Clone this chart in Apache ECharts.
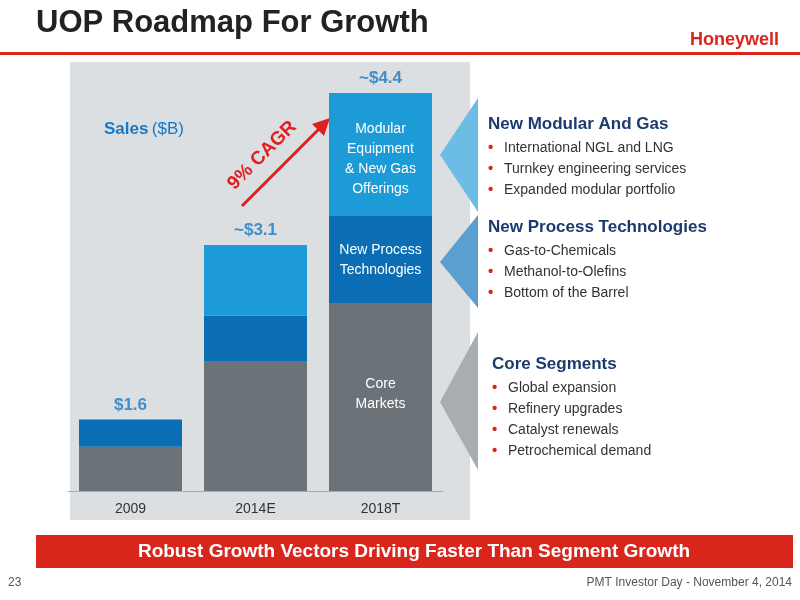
<!DOCTYPE html>
<html><head><meta charset="utf-8">
<script src="https://cdn.jsdelivr.net/npm/echarts@6/dist/echarts.min.js"></script>
<style>body{margin:0}#c{width:800px;height:600px}</style></head>
<body><div id="c"></div>
<script>
const categories = ['2009', '2014E', '2018T'];
const coreMarkets = [0.49, 1.43, 2.07];
const newProcess = [0.30, 0.51, 0.97];
const modularGas = [null, 0.78, 1.36];
const totalLabels = ['$1.6', '~$3.1', '~$4.4'];
const totals = categories.map((c, i) => coreMarkets[i] + newProcess[i] + (modularGas[i] || 0));

const chart = echarts.init(document.getElementById('c'));
const F = 'Liberation Sans, Arial, sans-serif';
const inner = (txt) => ({show: true, position: 'inside', color: '#fff', fontSize: 14, fontFamily: F, lineHeight: 20,
  formatter: (p) => p.dataIndex === 2 ? txt : ''});

function bullets(x, y, head, items) {
  const out = [{type: 'text', left: x, top: y, style: {text: head, fill: '#1b3b6f', font: 'bold 17px ' + F}}];
  items.forEach((t, i) => {
    out.push({type: 'text', left: x, top: y + 24 + i * 21, style: {text: '•', fill: '#d9261c', font: 'bold 15px ' + F}});
    out.push({type: 'text', left: x + 16, top: y + 25 + i * 21, style: {text: t, fill: '#333', font: '14px ' + F}});
  });
  return out;
}

chart.setOption({
  animation: false,
  backgroundColor: '#fff',
  grid: {left: 68, right: 357, top: 93, bottom: 109},
  xAxis: {type: 'category', data: categories, axisTick: {show: false},
    axisLine: {lineStyle: {color: '#aaa'}},
    axisLabel: {color: '#333', fontSize: 14, fontFamily: F, margin: 11}},
  yAxis: {type: 'value', min: 0, max: 4.4, show: false, splitLine: {show: false}},
  graphic: [
    {type: 'rect', z: -10, shape: {x: 70, y: 62, width: 400, height: 458}, style: {fill: '#dcdfe1'}},
    {type: 'text', left: 36, top: 8, style: {text: 'UOP Roadmap For Growth', fill: '#222', font: 'bold 31px ' + F}},
    {type: 'text', left: 690, top: 31, style: {text: 'Honeywell', fill: '#d9261c', font: 'bold 18px ' + F}},
    {type: 'rect', shape: {x: 0, y: 52, width: 800, height: 3}, style: {fill: '#d9261c'}},
    {type: 'text', left: 104, top: 121, style: {rich: {a: {fill: '#1a78c2', font: 'bold 17px ' + F}, b: {fill: '#1a78c2', font: '17px ' + F}}, text: '{a|Sales} {b|($B)}'}},
    {type: 'line', shape: {x1: 242, y1: 206, x2: 326, y2: 122}, style: {stroke: '#e02020', lineWidth: 3}},
    {type: 'polygon', shape: {points: [[330, 118], [312, 124], [324, 136]]}, style: {fill: '#e02020'}},
    {type: 'text', x: 224, y: 180, rotation: Math.PI / 4, style: {text: '9% CAGR', fill: '#e02020', font: 'bold 19px ' + F}},
    {type: 'polygon', shape: {points: [[440, 155], [478, 98], [478, 212]]}, style: {fill: '#6cbde6'}},
    {type: 'polygon', shape: {points: [[440, 262], [478, 215], [478, 308]]}, style: {fill: '#5a9fcf'}},
    {type: 'polygon', shape: {points: [[440, 402], [478, 332], [478, 470]]}, style: {fill: '#a9adb1'}},
    ...bullets(488, 116, 'New Modular And Gas', ['International NGL and LNG', 'Turnkey engineering services', 'Expanded modular portfolio']),
    ...bullets(488, 219, 'New Process Technologies', ['Gas-to-Chemicals', 'Methanol-to-Olefins', 'Bottom of the Barrel']),
    ...bullets(492, 356, 'Core Segments', ['Global expansion', 'Refinery upgrades', 'Catalyst renewals', 'Petrochemical demand']),
    {type: 'rect', shape: {x: 36, y: 535, width: 757, height: 33}, style: {fill: '#d9261c'}},
    {type: 'text', x: 414, y: 552, style: {text: 'Robust Growth Vectors Driving Faster Than Segment Growth', fill: '#fff', font: 'bold 19px ' + F, textAlign: 'center', textVerticalAlign: 'middle'}},
    {type: 'text', left: 8, top: 577, style: {text: '23', fill: '#555', font: '12px ' + F}},
    {type: 'text', right: 8, top: 577, style: {text: 'PMT Investor Day - November 4, 2014', fill: '#555', font: '12px ' + F}}
  ],
  series: [
    {type: 'bar', stack: 's', barWidth: 103, data: coreMarkets, itemStyle: {color: '#6b7378'},
      label: Object.assign(inner('Core\nMarkets'), {position: 'insideTop', distance: 70})},
    {type: 'bar', stack: 's', data: newProcess, itemStyle: {color: '#0b6db3'},
      label: inner('New Process\nTechnologies')},
    {type: 'bar', stack: 's', data: modularGas, itemStyle: {color: '#1d9bd7'},
      label: Object.assign(inner('Modular\nEquipment\n& New Gas\nOfferings'), {position: 'insideTop', distance: 26})},
    {type: 'scatter', data: totals, symbolSize: 0, silent: true,
      label: {show: true, position: 'top', distance: 6, color: '#1a78c2', fontSize: 17, fontWeight: 'bold', fontFamily: F,
        formatter: (p) => totalLabels[p.dataIndex]}}
  ]
});
</script></body></html>
